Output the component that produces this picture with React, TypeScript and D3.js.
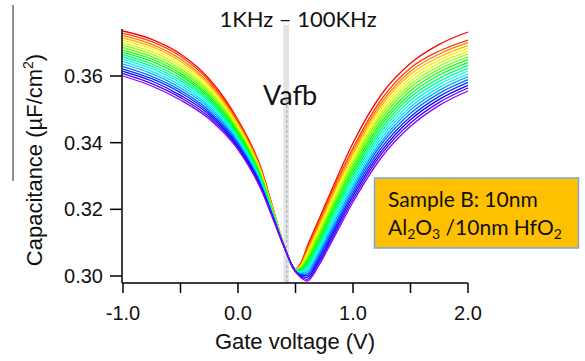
import React from 'react';
import * as d3 from 'd3';

const width = 585;
const height = 361;

// gate voltage sample points (V)
const voltages = [-1.0, -0.75, -0.5, -0.25, 0.0, 0.2, 0.3, 0.4, 0.5, 0.55, 0.6, 0.7, 0.8, 1.0, 1.25, 1.5, 1.75, 2.0];

// capacitance (uF/cm2), one row per frequency, 1KHz (red) first, 100KHz (purple) last
const sweeps = [
  [0.3735, 0.3710, 0.3666, 0.3591, 0.3468, 0.3324, 0.3209, 0.3092, 0.3022, 0.3042, 0.3087, 0.3167, 0.3247, 0.3399, 0.3546, 0.3638, 0.3695, 0.3732],
  [0.3728, 0.3703, 0.3659, 0.3585, 0.3463, 0.3321, 0.3207, 0.3092, 0.3021, 0.3039, 0.3082, 0.3160, 0.3239, 0.3384, 0.3531, 0.3624, 0.3675, 0.3708],
  [0.3721, 0.3695, 0.3651, 0.3578, 0.3459, 0.3317, 0.3205, 0.3092, 0.3021, 0.3037, 0.3076, 0.3153, 0.3231, 0.3375, 0.3521, 0.3614, 0.3666, 0.3700],
  [0.3714, 0.3688, 0.3644, 0.3572, 0.3454, 0.3314, 0.3204, 0.3092, 0.3020, 0.3034, 0.3071, 0.3145, 0.3223, 0.3366, 0.3512, 0.3605, 0.3657, 0.3691],
  [0.3707, 0.3681, 0.3637, 0.3566, 0.3449, 0.3311, 0.3202, 0.3092, 0.3020, 0.3032, 0.3066, 0.3138, 0.3215, 0.3357, 0.3502, 0.3595, 0.3648, 0.3683],
  [0.3699, 0.3673, 0.3630, 0.3559, 0.3445, 0.3307, 0.3200, 0.3091, 0.3019, 0.3029, 0.3060, 0.3131, 0.3206, 0.3348, 0.3492, 0.3585, 0.3639, 0.3674],
  [0.3692, 0.3666, 0.3622, 0.3553, 0.3440, 0.3304, 0.3198, 0.3091, 0.3019, 0.3027, 0.3055, 0.3124, 0.3198, 0.3339, 0.3483, 0.3575, 0.3630, 0.3666],
  [0.3685, 0.3658, 0.3615, 0.3547, 0.3435, 0.3300, 0.3196, 0.3091, 0.3018, 0.3024, 0.3049, 0.3117, 0.3190, 0.3330, 0.3473, 0.3566, 0.3621, 0.3657],
  [0.3678, 0.3651, 0.3608, 0.3540, 0.3431, 0.3297, 0.3195, 0.3091, 0.3018, 0.3022, 0.3044, 0.3109, 0.3182, 0.3321, 0.3463, 0.3556, 0.3612, 0.3649],
  [0.3671, 0.3644, 0.3601, 0.3534, 0.3426, 0.3294, 0.3193, 0.3091, 0.3017, 0.3019, 0.3039, 0.3102, 0.3174, 0.3312, 0.3454, 0.3546, 0.3603, 0.3640],
  [0.3664, 0.3636, 0.3593, 0.3528, 0.3421, 0.3290, 0.3191, 0.3090, 0.3017, 0.3017, 0.3033, 0.3095, 0.3166, 0.3303, 0.3444, 0.3537, 0.3593, 0.3632],
  [0.3657, 0.3629, 0.3586, 0.3522, 0.3416, 0.3287, 0.3189, 0.3090, 0.3016, 0.3014, 0.3028, 0.3088, 0.3158, 0.3294, 0.3434, 0.3527, 0.3584, 0.3623],
  [0.3650, 0.3622, 0.3579, 0.3515, 0.3412, 0.3284, 0.3187, 0.3090, 0.3016, 0.3012, 0.3023, 0.3080, 0.3150, 0.3285, 0.3425, 0.3517, 0.3575, 0.3615],
  [0.3643, 0.3614, 0.3572, 0.3509, 0.3407, 0.3280, 0.3186, 0.3090, 0.3015, 0.3009, 0.3017, 0.3073, 0.3142, 0.3276, 0.3415, 0.3507, 0.3566, 0.3606],
  [0.3636, 0.3607, 0.3564, 0.3503, 0.3402, 0.3277, 0.3184, 0.3090, 0.3015, 0.3007, 0.3012, 0.3066, 0.3134, 0.3267, 0.3405, 0.3498, 0.3557, 0.3598],
  [0.3628, 0.3599, 0.3557, 0.3496, 0.3398, 0.3273, 0.3182, 0.3089, 0.3014, 0.3004, 0.3006, 0.3059, 0.3125, 0.3258, 0.3396, 0.3488, 0.3548, 0.3589],
  [0.3621, 0.3592, 0.3550, 0.3490, 0.3393, 0.3270, 0.3180, 0.3089, 0.3014, 0.3002, 0.3001, 0.3052, 0.3117, 0.3249, 0.3386, 0.3478, 0.3539, 0.3581],
  [0.3614, 0.3585, 0.3542, 0.3484, 0.3388, 0.3267, 0.3178, 0.3089, 0.3013, 0.2999, 0.2996, 0.3044, 0.3109, 0.3240, 0.3376, 0.3469, 0.3530, 0.3572],
  [0.3607, 0.3577, 0.3535, 0.3477, 0.3384, 0.3263, 0.3177, 0.3088, 0.3013, 0.2997, 0.2990, 0.3037, 0.3101, 0.3231, 0.3367, 0.3459, 0.3521, 0.3564],
  [0.3600, 0.3570, 0.3528, 0.3471, 0.3379, 0.3260, 0.3175, 0.3088, 0.3012, 0.2994, 0.2985, 0.3030, 0.3093, 0.3222, 0.3357, 0.3449, 0.3512, 0.3555],
];

const xTicks = [-1.0, -0.5, 0.0, 0.5, 1.0, 1.5, 2.0];
const xLabels = [-1.0, 0.0, 1.0, 2.0];
const yTicks = [0.30, 0.32, 0.34, 0.36];
const vafb = 0.42;

const axisFont = '"Liberation Sans", Arial, sans-serif';
const noteFont = 'Lato, "Open Sans", sans-serif';

export default function App() {
  const x = d3.scaleLinear().domain([-1, 2]).range([123, 468]);
  const y = d3.scaleLinear().domain([0.30, 0.36]).range([276, 76]);
  const plotTop = 29;
  const plotBottom = 283;
  const plotLeft = 122;

  const line = d3
    .line<number>()
    .x((d, i) => x(voltages[i]))
    .y(d => y(d))
    .curve(d3.curveMonotoneX);

  const hue = d3.scaleLinear().domain([0, sweeps.length - 1]).range([0, 272]);

  return (
    <svg width={width} height={height} style={{ position: 'absolute', left: 0, top: 0, background: '#fff' }}>
      {/* stray line at the left edge */}
      <line x1={13} x2={13} y1={5} y2={181} stroke="#222" strokeWidth={1} />

      {/* Vafb marker */}
      <rect x={x(vafb) - 2.8} y={25} width={5.5} height={plotBottom - 25} fill="#e2e2e2" />
      <line x1={x(vafb) + 0.5} x2={x(vafb) + 0.5} y1={100} y2={plotBottom} stroke="#9fb0c8" strokeWidth={1} strokeDasharray="3,2" />

      {sweeps.map((s, i) => (
        <path key={i} d={line(s) || ''} fill="none" stroke={d3.hsl(hue(i), 1, 0.5).toString()} strokeWidth={1.3} />
      ))}

      {/* axes */}
      <line x1={plotLeft} x2={plotLeft} y1={plotTop} y2={plotBottom} stroke="#000" strokeWidth={1.5} />
      <line x1={plotLeft} x2={x(2)} y1={plotBottom} y2={plotBottom} stroke="#000" strokeWidth={1.5} />
      {yTicks.map(t => (
        <g key={t}>
          <line x1={plotLeft - 12} x2={plotLeft} y1={y(t)} y2={y(t)} stroke="#000" strokeWidth={1.5} />
          <text x={plotLeft - 19} y={y(t) + 7} textAnchor="end" fontFamily={axisFont} fontSize={20} fill="#111">
            {t.toFixed(2)}
          </text>
        </g>
      ))}
      {xTicks.map(t => (
        <line key={t} x1={x(t)} x2={x(t)} y1={plotBottom} y2={plotBottom + 10} stroke="#000" strokeWidth={1.5} />
      ))}
      {xLabels.map(t => (
        <text key={t} x={x(t)} y={320} textAnchor="middle" fontFamily={axisFont} fontSize={20} fill="#111">
          {t.toFixed(1)}
        </text>
      ))}
      <text x={295} y={349} textAnchor="middle" fontFamily={axisFont} fontSize={22} fill="#111">
        Gate voltage (V)
      </text>
      <text transform="translate(42,160) rotate(-90)" textAnchor="middle" fontFamily={axisFont} fontSize={22} fill="#111">
        Capacitance (µF/cm<tspan fontSize={14} dy={-9}>2</tspan><tspan dy={9}>)</tspan>
      </text>

      {/* annotations */}
      <text x={298} y={27} textAnchor="middle" fontFamily={noteFont} fontSize={22} fill="#111">
        1KHz – 100KHz
      </text>
      <text x={263} y={105} fontFamily={noteFont} fontSize={27} fill="#111">
        Vafb
      </text>
      <rect x={374.5} y={178} width={204} height={70} fill="#FFC000" stroke="#7fa6d6" strokeWidth={1.5} />
      <text x={388} y={207} fontFamily={noteFont} fontSize={21} fill="#111">
        Sample B: 10nm
      </text>
      <text x={388} y={235} fontFamily={noteFont} fontSize={21} fill="#111">
        Al<tspan fontSize={14} dy={4}>2</tspan>
        <tspan dy={-4}>O</tspan>
        <tspan fontSize={14} dy={4}>3</tspan>
        <tspan dy={-4}> /10nm HfO</tspan>
        <tspan fontSize={14} dy={4}>2</tspan>
      </text>
    </svg>
  );
}
